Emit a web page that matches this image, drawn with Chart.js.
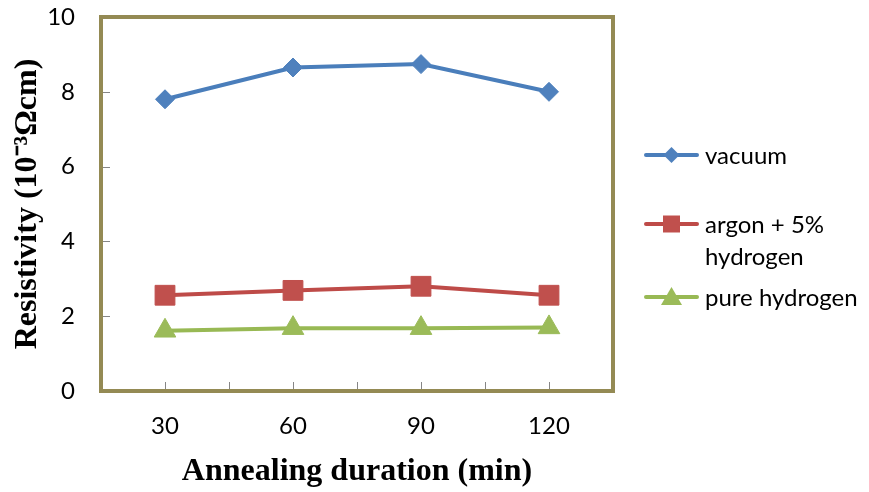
<!DOCTYPE html>
<html>
<head>
<meta charset="utf-8">
<script src="https://cdn.jsdelivr.net/npm/chart.js@4/dist/chart.umd.min.js"></script>
<style>
  html, body { margin: 0; padding: 0; background: #ffffff; }
  #wrap { position: relative; width: 869px; height: 492px; }
</style>
</head>
<body>
<div id="wrap"><canvas id="c" width="869" height="492"></canvas></div>
<script>
// ---- data ----
const categories = ["30", "60", "90", "120"];
const vacuum = [7.80, 8.65, 8.74, 8.00];
const argon = [2.56, 2.69, 2.80, 2.56];
const pureHydrogen = [1.61, 1.68, 1.68, 1.70];
const seriesNames = ["vacuum", ["argon + 5%", "hydrogen"], "pure hydrogen"];
const yTicks = [0, 2, 4, 6, 8, 10];
const xTitle = "Annealing duration (min)";
const yTitle = "Resistivity (10\u207B\u00B3\u03A9cm)";

const BORDER = "#948A54";
const TICKC = "#868686";

const frame = {
  id: "frame",
  afterDatasetsDraw(chart) {
    const {ctx, chartArea: a, scales} = chart;
    ctx.save();
    // inward tick marks
    ctx.strokeStyle = TICKC;
    ctx.lineWidth = 1;
    ctx.beginPath();
    yTicks.forEach(v => {
      const y = Math.round(scales.y.getPixelForValue(v)) + 0.5;
      ctx.moveTo(a.left, y); ctx.lineTo(a.left + 9, y);
    });
    const n = categories.length;
    for (let i = 0; i <= 2 * n; i++) {
      const x = Math.round(a.left + (a.right - a.left) * i / (2 * n)) + 0.5;
      ctx.moveTo(x, a.bottom); ctx.lineTo(x, a.bottom - 9);
    }
    ctx.stroke();
    // plot border
    ctx.strokeStyle = BORDER;
    ctx.lineWidth = 4;
    ctx.strokeRect(a.left, a.top, a.right - a.left, a.bottom - a.top);
    ctx.restore();
  },
  afterDraw(chart) {
    const {ctx} = chart;
    const rows = [155, 224, 297];
    ctx.save();
    ctx.font = "24px Lato";
    ctx.textBaseline = "middle";
    ctx.fillStyle = "#000";
    chart.data.datasets.forEach((ds, i) => {
      const y = rows[i];
      ctx.strokeStyle = ds.borderColor;
      ctx.lineWidth = 4;
      ctx.lineCap = "round";
      ctx.beginPath(); ctx.moveTo(646, y); ctx.lineTo(697, y); ctx.stroke();
      ctx.fillStyle = ds.pointBackgroundColor;
      const cx = 671.5;
      ctx.beginPath();
      if (ds.pointStyle === "rectRot") {
        const r = 8;
        ctx.moveTo(cx - r, y); ctx.lineTo(cx, y - r); ctx.lineTo(cx + r, y); ctx.lineTo(cx, y + r);
      } else if (ds.pointStyle === "rect") {
        ctx.rect(cx - 8.5, y - 8.5, 17, 17);
      } else {
        ctx.moveTo(cx, y - 10); ctx.lineTo(cx + 10.5, y + 8); ctx.lineTo(cx - 10.5, y + 8);
      }
      ctx.closePath(); ctx.fill();
      ctx.fillStyle = "#000";
      const lbl = seriesNames[i];
      const lines = Array.isArray(lbl) ? lbl : [lbl];
      lines.forEach((t, k) => ctx.fillText(t, 705, y + 1 + k * 32));
    });
    ctx.restore();
  }
};

new Chart(document.getElementById("c"), {
  type: "line",
  data: {
    labels: categories,
    datasets: [
      { label: "vacuum", data: vacuum, borderColor: "#4A7EBB", backgroundColor: "#4F81BD",
        pointBackgroundColor: "#4F81BD", pointBorderColor: "#4F81BD", pointStyle: "rectRot",
        pointRadius: 9.5, pointBorderWidth: 1, borderWidth: 4, tension: 0 },
      { label: "argon + 5% hydrogen", data: argon, borderColor: "#BE4B48", backgroundColor: "#C0504D",
        pointBackgroundColor: "#C0504D", pointBorderColor: "#C0504D", pointStyle: "rect",
        pointRadius: 14, pointBorderWidth: 1, borderWidth: 4, tension: 0 },
      { label: "pure hydrogen", data: pureHydrogen, borderColor: "#98B954", backgroundColor: "#9BBB59",
        pointBackgroundColor: "#9BBB59", pointBorderColor: "#9BBB59", pointStyle: "triangle",
        pointRadius: 12.5, pointBorderWidth: 1, borderWidth: 4, tension: 0 }
    ]
  },
  options: {
    responsive: false,
    animation: false,
    devicePixelRatio: 1,
    layout: { padding: { top: 17, right: 256, left: 0, bottom: 0 } },
    plugins: { legend: { display: false }, tooltip: { enabled: false } },
    scales: {
      x: {
        type: "category",
        offset: true,
        grid: { display: false, drawTicks: false },
        border: { display: false },
        ticks: { color: "#000", font: { family: "Lato", size: 24 }, padding: 21, maxRotation: 0 },
        title: { display: true, text: xTitle, color: "#000",
          font: { family: "Liberation Serif", size: 32, weight: "bold", lineHeight: 1 },
          padding: { top: 0, bottom: 4 } },
        afterFit(s) { s.height = 101; s.paddingLeft = 0; s.paddingRight = 0; }
      },
      y: {
        min: 0, max: 10,
        afterBuildTicks(s) { s.ticks = yTicks.map(v => ({ value: v })); },
        grid: { display: false, drawTicks: false },
        border: { display: false },
        ticks: { color: "#000", font: { family: "Lato", size: 24 }, padding: 26 },
        title: { display: true, text: yTitle, color: "#000",
          font: { family: "Liberation Serif", size: 32, weight: "bold", lineHeight: 1 },
          padding: { top: 12, bottom: 0 } },
        afterFit(s) { s.width = 101; s.paddingTop = 0; s.paddingBottom = 0; }
      }
    }
  },
  plugins: [frame]
});
</script>
</body>
</html>
